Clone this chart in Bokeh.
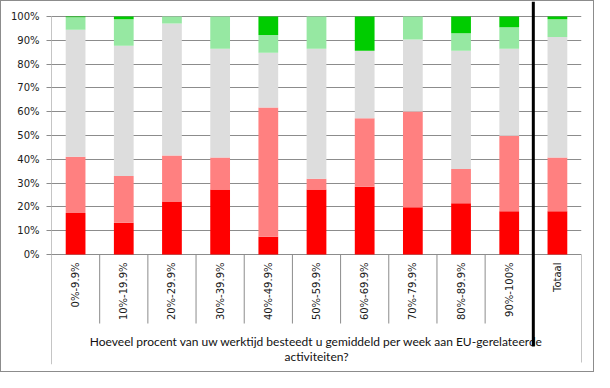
import math
from bokeh.plotting import figure
from bokeh.models import Range1d, FactorRange, FixedTicker, ColumnDataSource
from bokeh.core.properties import value
from bokeh.embed import file_html
from bokeh.resources import INLINE

# ---------------- data ----------------
categories = ["0%-9.9%", "10%-19.9%", "20%-29.9%", "30%-39.9%", "40%-49.9%",
              "50%-59.9%", "60%-69.9%", "70%-79.9%", "80%-89.9%", "90%-100%", "Totaal"]
series_names = ["helemaal_oneens", "oneens", "neutraal", "eens", "helemaal_eens"]
helemaal_oneens = [17.4, 13.3, 22.3, 27.3, 7.5, 27.3, 28.5, 19.9, 21.5, 18.2, 18.2]
oneens          = [23.7, 19.7, 19.3, 13.5, 54.3, 4.5, 28.8, 40.2, 14.4, 31.7, 22.6]
neutraal        = [53.3, 54.7, 55.5, 45.6, 23.0, 54.6, 28.3, 30.2, 49.7, 36.5, 50.6]
eens            = [5.3, 11.1, 2.9, 13.6, 7.4, 13.6, 0.0, 9.7, 7.4, 9.1, 7.4]
helemaal_eens   = [0.3, 1.2, 0.0, 0.0, 7.8, 0.0, 14.4, 0.0, 7.0, 4.5, 1.2]
y_ticks = [0, 10, 20, 30, 40, 50, 60, 70, 80, 90, 100]
y_tick_labels = ["0%", "10%", "20%", "30%", "40%", "50%", "60%", "70%", "80%", "90%", "100%"]
axis_title_lines = ["Hoeveel procent van uw werktijd besteedt u gemiddeld per week aan EU-gerelateerde",
                    "activiteiten?"]
colors = ["#FF0000", "#FF8080", "#DDDDDD", "#96E8A2", "#00CC00"]

# ---------------- layout ----------------
FRAME_W, FRAME_H = 530, 363
LEFT, RIGHT, TOP, BOTTOM = 50, 12, 0, 7
PX_PER_UNIT = 2.38          # pixels per percent point
ZERO_FROM_TOP = 253         # pixel position of 0% from frame top
YMAX = ZERO_FROM_TOP / PX_PER_UNIT
YMIN = YMAX - FRAME_H / PX_PER_UNIT


def px(n):
    return n / PX_PER_UNIT


source = ColumnDataSource(dict(cat=categories, helemaal_oneens=helemaal_oneens, oneens=oneens,
                               neutraal=neutraal, eens=eens, helemaal_eens=helemaal_eens))

p = figure(x_range=FactorRange(*categories), y_range=Range1d(YMIN, YMAX),
           frame_width=FRAME_W, frame_height=FRAME_H,
           min_border_left=LEFT, min_border_right=RIGHT, min_border_top=TOP, min_border_bottom=BOTTOM,
           output_backend="svg", toolbar_location=None, tools="")
p.outline_line_color = None
p.background_fill_color = "white"
p.border_fill_color = "white"
p.styles = {"border": "1px solid #8c8c8c"}

p.vbar_stack(series_names, x="cat", width=0.41, color=colors, line_color=None, source=source)

# y axis
p.yaxis.ticker = FixedTicker(ticks=y_ticks)
p.yaxis.major_label_overrides = {t: l for t, l in zip(y_ticks, y_tick_labels)}
p.yaxis.axis_line_color = None
p.yaxis.major_tick_out = 5
p.yaxis.major_tick_in = 0
p.yaxis.major_tick_line_color = "#8c8c8c"
p.yaxis.minor_tick_line_color = None
p.yaxis.major_label_standoff = 7
p.yaxis.major_label_text_font = "DejaVu Sans"
p.yaxis.major_label_text_font_size = "10px"
p.yaxis.major_label_text_color = "#1a1a1a"

p.ygrid.ticker = FixedTicker(ticks=y_ticks)
p.ygrid.grid_line_color = "#8c8c8c"
p.xgrid.visible = False
p.xaxis.visible = False

# category axis structure
n = len(categories)
inner_bounds = [(c, -0.5) for c in categories[1:n - 1]]
p.segment(x0=inner_bounds, y0=[0] * len(inner_bounds), x1=inner_bounds, y1=[-px(69)] * len(inner_bounds),
          line_color="#8c8c8c", line_width=1)
left_b = [(categories[0], -0.5)]
p.segment(x0=left_b, y0=[100], x1=left_b, y1=[YMIN], line_color="#8c8c8c", line_width=1)
right_b = [(categories[-1], 0.5)]
p.segment(x0=right_b, y0=[0], x1=right_b, y1=[-px(108)], line_color="#8c8c8c", line_width=1)

# category labels
p.text(x=categories, y=[-px(8)] * n, text=categories, angle=math.pi / 2,
       text_align="right", text_baseline="middle",
       text_font=value("DejaVu Sans"), text_font_size="10px", text_color="#1a1a1a")

# axis title
mid = categories[n // 2]
p.text(x=[mid, mid], y=[-px(87), -px(102)], text=axis_title_lines,
       text_align="center", text_baseline="middle",
       text_font=value("Lato"), text_font_size="12px", text_color="#111111")

# thick separator before total
thick = [(categories[-1], -0.5)]
p.segment(x0=thick, y0=[YMAX], x1=thick, y1=[-px(92)], line_color="black", line_width=3)

open("out.html", "w").write(file_html(p, INLINE))
